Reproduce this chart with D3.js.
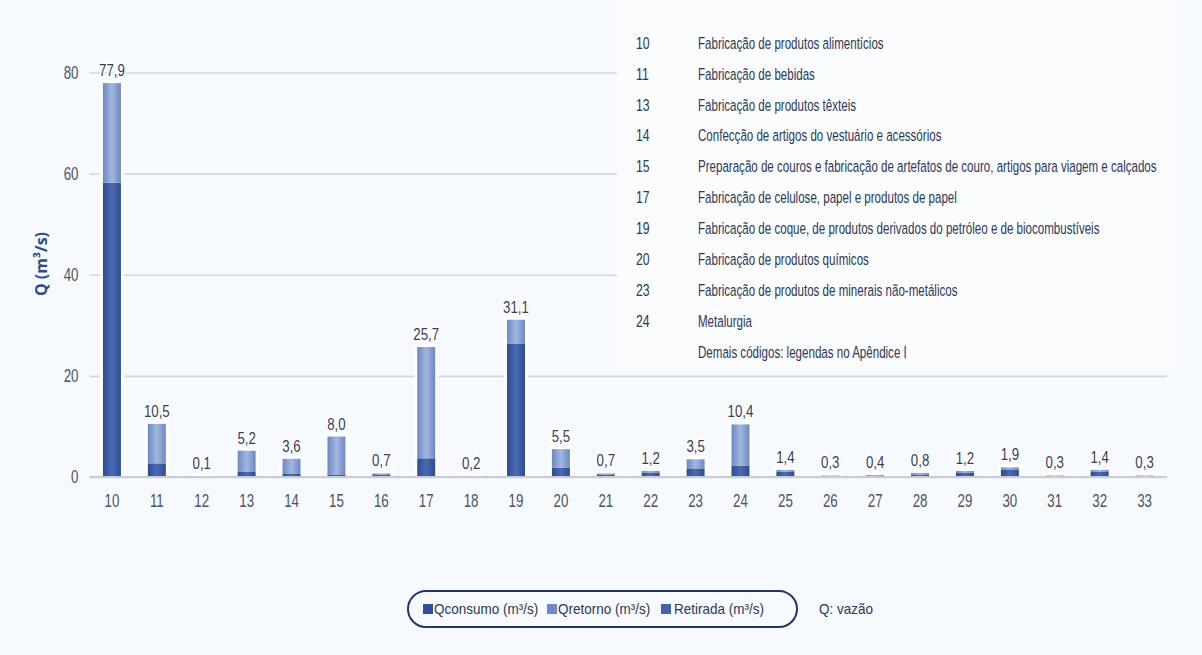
<!DOCTYPE html>
<html lang="pt">
<head>
<meta charset="utf-8">
<title>Vazão por divisão CNAE</title>
<style>
body { margin: 0; background: #f6f9fd; }
svg { display: block; font-family: "Liberation Sans", Arial, sans-serif; }
.axis text { font-size: 18px; fill: #4a5468; }
.axis .domain { display: none; }
.grid line { stroke: #d4d7dc; stroke-width: 1.6; }
.vlabel { font-size: 17px; fill: #34405a; }
.list text { font-size: 16.5px; fill: #2b3858; }
.legend text { font-size: 15px; fill: #2b3858; }
</style>
</head>
<body>
<svg width="1202" height="655"></svg>

<script src="https://cdn.jsdelivr.net/npm/d3@7"></script>
<script>

// division codes (x categories)
const codes = ['10','11','12','13','14','15','16','17','18','19','20','21',
               '22','23','24','25','26','27','28','29','30','31','32','33'];
// Qconsumo (m3/s), dark part of each bar
const consumo = [58.2, 2.7, 0.05, 1.0, 0.7, 0.5, 0.4, 3.7, 0.1, 26.4, 1.8, 0.5,
                 0.9, 1.7, 2.2, 1.0, 0.1, 0.2, 0.5, 0.8, 1.5, 0.1, 1.0, 0.1];
// Qretorno (m3/s), light part stacked on top
const retorno = [19.7, 7.8, 0.05, 4.2, 2.9, 7.5, 0.3, 22.0, 0.1, 4.7, 3.7, 0.2,
                 0.3, 1.8, 8.2, 0.4, 0.2, 0.2, 0.3, 0.4, 0.4, 0.2, 0.4, 0.2];
// Retirada (m3/s), label above each bar
const retirada = [77.9, 10.5, 0.1, 5.2, 3.6, 8.0, 0.7, 25.7, 0.2, 31.1, 5.5, 0.7,
                  1.2, 3.5, 10.4, 1.4, 0.3, 0.4, 0.8, 1.2, 1.9, 0.3, 1.4, 0.3];
const yTicks = [0, 20, 40, 60, 80];

const listCodes = ['10','11','13','14','15','17','19','20','23','24',''];
const listNames = [
  'Fabricação de produtos alimentícios',
  'Fabricação de bebidas',
  'Fabricação de produtos têxteis',
  'Confecção de artigos do vestuário e acessórios',
  'Preparação de couros e fabricação de artefatos de couro, artigos para viagem e calçados',
  'Fabricação de celulose, papel e produtos de papel',
  'Fabricação de coque, de produtos derivados do petróleo e de biocombustíveis',
  'Fabricação de produtos químicos',
  'Fabricação de produtos de minerais não-metálicos',
  'Metalurgia',
  'Demais códigos: legendas no Apêndice I'
];

const legendKeys = ['Qconsumo (m³/s)', 'Qretorno (m³/s)', 'Retirada (m³/s)'];
const legendColors = ['#2f4f98', '#6e89c6', '#4664aa'];

const svg = d3.select('svg');
const plotLeft = 89.5, plotRight = 1167, plotTop = 72.5, plotBottom = 477;

const x = d3.scaleBand().domain(codes).range([plotLeft, plotRight])
    .paddingInner(0.6).paddingOuter(0.3);
const y = d3.scaleLinear().domain([0, 80]).range([plotBottom, plotTop]);
const fmt = v => d3.format('.1f')(v).replace('.', ',');

// fake a condensed face: move x/y into a transform and squeeze horizontally
function squeeze(sel, s) {
  sel.each(function() {
    let t = d3.select(this);
    let tx = +t.attr('x') || 0, ty = +t.attr('y') || 0;
    t.attr('x', 0).attr('y', 0)
     .attr('transform', 'translate(' + tx + ',' + ty + ') scale(' + s + ',1)');
  });
}

// gradients: darker edges, lighter centre
const defs = svg.append('defs');
function grad(id, edge, mid) {
  let g = defs.append('linearGradient').attr('id', id)
    .attr('x1', 0).attr('x2', 1).attr('y1', 0).attr('y2', 0);
  g.append('stop').attr('offset', '0%').attr('stop-color', edge);
  g.append('stop').attr('offset', '50%').attr('stop-color', mid);
  g.append('stop').attr('offset', '100%').attr('stop-color', edge);
}
grad('gDark', '#2c4b92', '#4a6bb3');
grad('gLight', '#6c88c4', '#a3b6de');

// gridlines + y labels
const yAxis = svg.append('g')
    .attr('class', 'axis grid')
    .attr('transform', 'translate(' + plotLeft + ',0)')
    .call(d3.axisLeft(y).tickValues(yTicks).tickSize(-(plotRight - plotLeft)).tickPadding(11));
squeeze(yAxis.selectAll('text'), 0.74);

// the code list sits on a whiter box that hides the upper gridlines
svg.append('rect')
    .attr('x', 617).attr('y', 0).attr('width', 560).attr('height', 368)
    .attr('fill', '#fbfcfe');

const list = svg.append('g').attr('class', 'list')
  .selectAll('g')
  .data(listNames)
  .enter().append('g')
    .attr('transform', (d, i) => 'translate(0,' + (43 + i * 30.9) + ')');
const nums = list.append('text').attr('x', 636).attr('dy', '0.35em').text((d, i) => listCodes[i]);
squeeze(nums, 0.74);
const names = list.append('text').attr('x', 698).attr('dy', '0.35em').text(d => d);
// squeeze so the longest line ends near x=1157
let longest = d3.max(names.nodes(), n => n.getComputedTextLength());
squeeze(names, 459 / longest);

// bars
const bars = svg.append('g')
  .selectAll('g')
  .data(codes)
  .enter().append('g');

// white halo behind each bar
bars.append('rect')
    .attr('x', d => x(d) - 3)
    .attr('y', (d, i) => y(consumo[i] + retorno[i]) - 3)
    .attr('width', x.bandwidth() + 6)
    .attr('height', (d, i) => plotBottom - y(consumo[i] + retorno[i]) + 3)
    .attr('fill', '#fdfeff');

bars.append('rect')
    .attr('x', d => x(d))
    .attr('y', (d, i) => y(consumo[i]))
    .attr('width', x.bandwidth())
    .attr('height', (d, i) => plotBottom - y(consumo[i]))
    .attr('fill', 'url(#gDark)');

bars.append('rect')
    .attr('x', d => x(d))
    .attr('y', (d, i) => y(consumo[i] + retorno[i]))
    .attr('width', x.bandwidth())
    .attr('height', (d, i) => y(consumo[i]) - y(consumo[i] + retorno[i]))
    .attr('fill', 'url(#gLight)');

const vlabels = bars.append('text')
    .attr('class', 'vlabel')
    .attr('x', d => x(d) + x.bandwidth() / 2)
    .attr('y', (d, i) => y(consumo[i] + retorno[i]) - 7)
    .attr('text-anchor', 'middle')
    .attr('stroke', '#fdfeff').attr('stroke-width', 4).attr('paint-order', 'stroke')
    .text((d, i) => fmt(retirada[i]));
squeeze(vlabels, 0.78);

// x axis line + labels
svg.append('line')
    .attr('x1', plotLeft).attr('x2', plotRight).attr('y1', plotBottom).attr('y2', plotBottom)
    .attr('stroke', '#c9cdd3').attr('stroke-width', 2);
const xAxis = svg.append('g')
    .attr('class', 'axis')
    .attr('transform', 'translate(0,' + plotBottom + ')')
    .call(d3.axisBottom(x).tickSize(0).tickPadding(17));
squeeze(xAxis.selectAll('text'), 0.74);

// y title
svg.append('text')
    .attr('transform', 'translate(47,264) rotate(-90)')
    .attr('text-anchor', 'middle')
    .style('font-family', '"Open Sans", Roboto, sans-serif')
    .style('font-weight', 'bold').style('font-size', '16px')
    .attr('fill', '#2d4b90')
    .text('Q (m³/s)');

// legend
const lg = svg.append('g').attr('class', 'legend');
lg.append('rect')
    .attr('x', 408).attr('y', 591).attr('width', 389).attr('height', 36)
    .attr('rx', 18).attr('fill', 'none')
    .attr('stroke', '#1f3470').attr('stroke-width', 2);
const legX = [423, 547, 661];
const items = lg.selectAll('g.item')
  .data(legendKeys)
  .enter().append('g')
    .attr('class', 'item')
    .attr('transform', (d, i) => 'translate(' + legX[i] + ',609)');
items.append('rect')
    .attr('x', 0).attr('y', -5).attr('width', 10).attr('height', 10)
    .attr('fill', (d, i) => legendColors[i]);
const ltext = items.append('text')
    .attr('x', (d, i) => i === 2 ? 13 : 11).attr('dy', '0.35em')
    .text(d => d);
squeeze(ltext, 0.9);
const qv = lg.append('text').attr('x', 819).attr('y', 609).attr('dy', '0.35em').text('Q: vazão');
squeeze(qv, 0.9);

</script>
</body>
</html>
